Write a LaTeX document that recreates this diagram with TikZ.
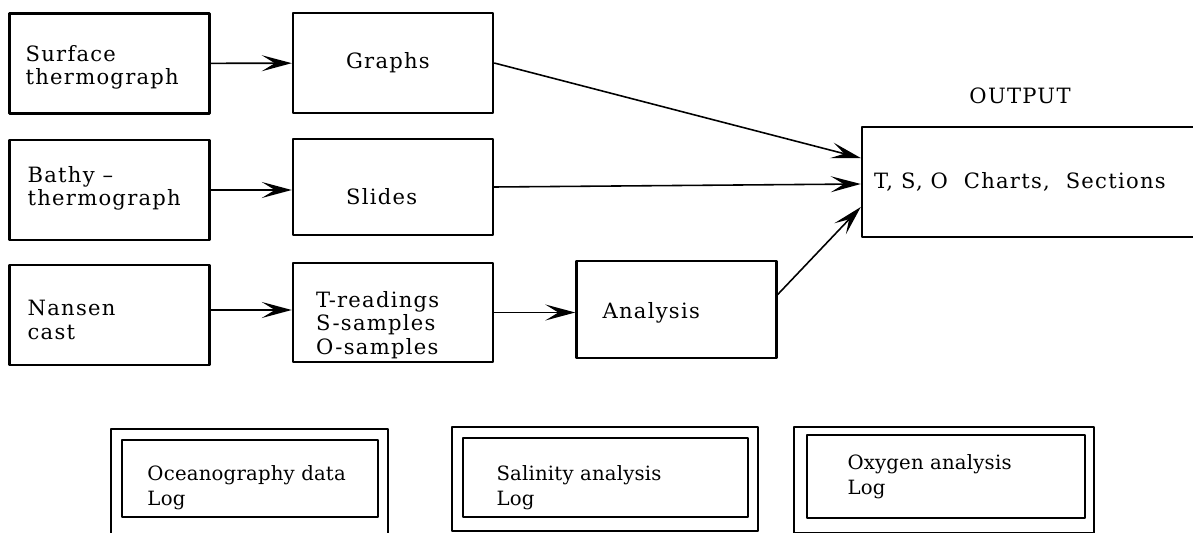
\documentclass[tikz,border=0pt]{standalone}
\usepackage{fontspec}
\setmainfont{DejaVu Serif}[LetterSpace=6]
\newfontfamily\logfont{DejaVu Serif}[LetterSpace=1]
\usetikzlibrary{arrows.meta,positioning}

\begin{document}
\begin{tikzpicture}[x=0.02cm, y=-0.02cm, line join=round,
    box/.style={draw, line width=1.4pt, minimum width=4cm, minimum height=2cm, inner sep=0pt},
    logbox/.style={draw, line width=1pt, inner sep=0pt},
    frame/.style={line width=1pt},
    txt/.style={inner sep=0pt, align=left, font=\fontsize{12}{13.2}\selectfont},
    logtxt/.style={inner sep=0pt, align=left, font=\logfont\fontsize{11.2}{14.2}\selectfont},
    arr/.style={-{Stealth[length=0.6cm, width=0.32cm, inset=0.26cm]}, line width=0.9pt}]
    \useasboundingbox (0,0) rectangle (1193,533);
    % Instruments
    \node[box] (surf) at (109.5,63.5) {};
    \node[box] (bathy) at (109.5,190) {};
    \node[box] (nansen) at (109.5,315) {};
    % Records
    \node[box] (graphs) at (393,63) {};
    \node[box, minimum height=1.92cm] (slides) at (393,187) {};
    \node[box, minimum height=1.98cm] (tread) at (393,312.5) {};
    \node[box, minimum height=1.94cm] (anal) at (676.5,309.5) {};
    % Output
    \node[box, minimum width=6.76cm, minimum height=2.2cm] (out) at (1031,182) {};
    \node[txt, above=0.44cm of out, xshift=-0.22cm] (outlbl) {OUTPUT};

    % Box texts
    \node[txt, right=0.34cm of surf.west, yshift=-0.07cm] (surft) {Surface\\thermograph};
    \node[txt, right=0.38cm of bathy.west, yshift=0.04cm] (batht) {Bathy --\\thermograph};
    \node[txt, right=0.38cm of nansen.west, yshift=-0.1cm] (nansent) {Nansen\\cast};
    \node[txt, right=1.08cm of graphs.west] (graphst) {Graphs};
    \node[txt, right=1.08cm of slides.west, yshift=-0.2cm] (slidest) {Slides};
    \node[txt, right=0.48cm of tread.west, yshift=-0.25cm] (treadt) {T-readings\\S-samples\\O-samples};
    \node[txt, right=0.54cm of anal.west, yshift=-0.07cm] (analt) {Analysis};
    \node[txt, right=0.26cm of out.west] (outt) {T, S, O~~Charts,~~Sections};

    % Arrows
    \draw[arr] (surf) -- (graphs);
    \draw[arr] (bathy.east) -- (bathy.east -| slides.west);
    \draw[arr] ([yshift=0.1cm]nansen.east) -- ([yshift=0.1cm]nansen.east -| tread.west);
    \draw[arr] (tread.east) -- (tread.east -| anal.west);
    \draw[arr] (graphs.east) -- ([yshift=0.48cm]out.west);
    \draw[arr] (slides.east) -- ([yshift=-0.04cm]out.west);
    \draw[arr] ([yshift=0.3cm]anal.east) -- ([yshift=-0.5cm]out.west);

    % Logs
    \node[logbox, minimum width=5.12cm, minimum height=1.54cm] (oclog) at (250,478.5) {};
    \node[logbox, minimum width=5.7cm, minimum height=1.58cm] (salog) at (605.5,477.5) {};
    \node[logbox, minimum width=5.56cm, minimum height=1.66cm] (oxlog) at (946,476.5) {};
    \draw[frame] ([xshift=-0.2cm,yshift=0.2cm]oclog.north west) rectangle ([xshift=0.18cm,yshift=-0.46cm]oclog.south east);
    \draw[frame] ([xshift=-0.2cm,yshift=0.2cm]salog.north west) rectangle ([xshift=0.18cm,yshift=-0.26cm]salog.south east);
    \draw[frame] ([xshift=-0.24cm,yshift=0.14cm]oxlog.north west) rectangle ([xshift=0.16cm,yshift=-0.28cm]oxlog.south east);
    \node[logtxt, right=0.52cm of oclog.west, yshift=-0.18cm] (oclogt) {Oceanography data\\Log};
    \node[logtxt, right=0.68cm of salog.west, yshift=-0.2cm] (salogt) {Salinity analysis\\Log};
    \node[logtxt, right=0.82cm of oxlog.west] (oxlogt) {Oxygen analysis\\Log};
  \end{tikzpicture}
\end{document}
